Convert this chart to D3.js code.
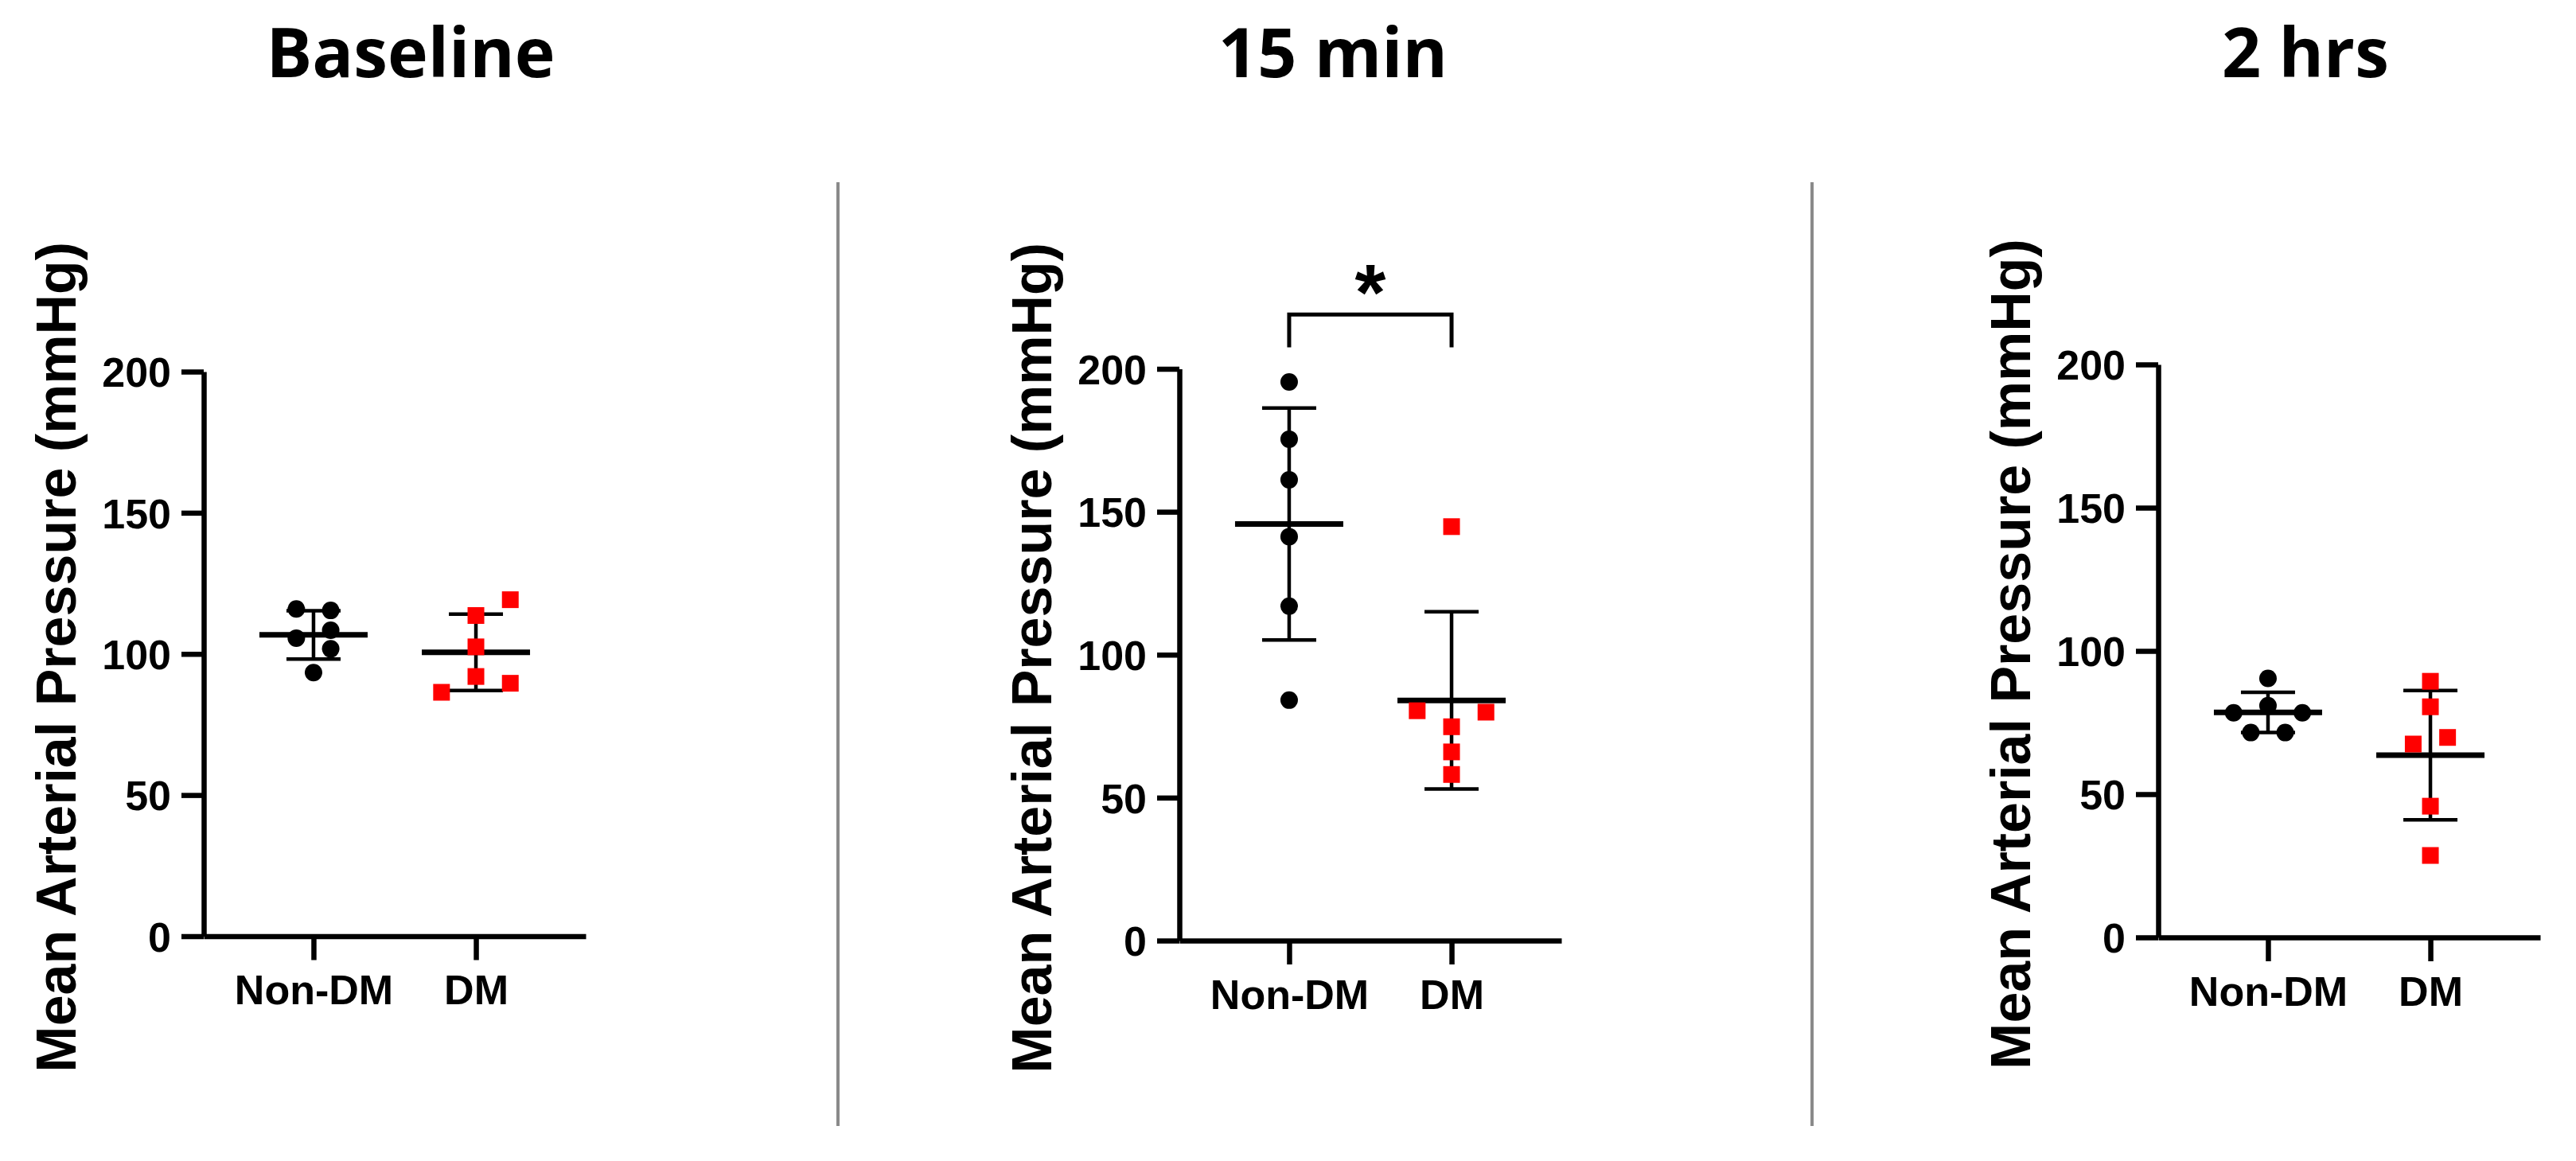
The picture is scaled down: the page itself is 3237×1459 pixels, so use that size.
<!DOCTYPE html>
<html><head><meta charset="utf-8">
<script src="https://cdn.jsdelivr.net/npm/d3@7"></script>
<style>html,body{margin:0;padding:0;background:#fff}svg{display:block}</style>
</head><body><svg id="chart" width="3237" height="1459"></svg>
<script>
// ---------------- data ----------------
const panelTitles = ["Baseline", "15 min", "2 hrs"];
const categories = ["Non-DM", "DM"];
const yTicks = [0, 50, 100, 150, 200];
const yAxisTitle = "Mean Arterial Pressure (mmHg)";

const baselineNonDM = [115.9, 115.4, 108.4, 105.6, 101.8, 93.4];
const baselineDM    = [119.2, 113.6, 102.5, 92.0, 89.6, 86.4];
const min15NonDM    = [195.4, 175.4, 161.2, 141.3, 117.0, 84.1];
const min15DM       = [144.8, 80.4, 79.9, 74.8, 66.0, 58.1];
const hrs2NonDM     = [90.4, 80.9, 78.4, 78.4, 71.5, 71.5];
const hrs2DM        = [89.4, 80.5, 69.8, 67.5, 45.8, 28.6];

// column-scatter lane of each point (same order as the values)
const baselineNonDMLanes = [-1, 1, 1, -1, 1, 0];
const baselineDMLanes    = [2, 0, 0, 0, 2, -2];
const min15NonDMLanes    = [0, 0, 0, 0, 0, 0];
const min15DMLanes       = [0, -2, 2, 0, 0, 0];
const hrs2NonDMLanes     = [0, 0, -2, 2, -1, 1];
const hrs2DMLanes        = [0, 0, 1, -1, 0, 0];

const significanceLabels = [null, "*", null];
const bracketLevels = [219, 207.5];   // in mmHg units

// ---------------- layout / style ----------------
const layout = [
  {axisX: 256,  y0: 1176.5, yTop: 467,   titleX: 516},
  {axisX: 1482, y0: 1182,   yTop: 463.5, titleX: 1675},
  {axisX: 2712, y0: 1178,   yTop: 458,   titleX: 2897}
];
const dividersX = [1053, 2277];
const xAxisLen = 480, laneUnit = 21.6;
const axisW = 6.5, meanW = 7, sdW = 4.5;
const meanHalf = 68, capHalf = 34;
const circleR = 11, squareSide = 21;
const groupColor = ["#000000", "#ff0000"];
const fontAxis = "'Liberation Sans', Arial, sans-serif";

const panelData = [
  [{v: baselineNonDM, lanes: baselineNonDMLanes}, {v: baselineDM, lanes: baselineDMLanes}],
  [{v: min15NonDM, lanes: min15NonDMLanes}, {v: min15DM, lanes: min15DMLanes}],
  [{v: hrs2NonDM, lanes: hrs2NonDMLanes}, {v: hrs2DM, lanes: hrs2DMLanes}]
];

const svg = d3.select("#chart");
svg.append("rect").attr("width", 3237).attr("height", 1459).attr("fill", "#fff");

// dividers
svg.selectAll("line.divider").data(dividersX).join("line")
  .attr("class", "divider")
  .attr("x1", d => d).attr("x2", d => d)
  .attr("y1", 229).attr("y2", 1415)
  .attr("stroke", "#8a8a8a").attr("stroke-width", 4);

panelTitles.forEach((title, i) => {
  const L = layout[i];
  const g = svg.append("g");

  // title
  g.append("text").text(title)
    .attr("x", L.titleX).attr("y", 97)
    .attr("text-anchor", "middle")
    .attr("font-family", "'Open Sans', sans-serif")
    .attr("font-weight", 700).attr("font-size", 86)
    .attr("fill", "#000");

  const y = d3.scaleLinear().domain([0, 200]).range([L.y0, L.yTop]);
  const x = d3.scalePoint().domain(categories)
    .range([L.axisX, L.axisX + xAxisLen]).padding(0.676);

  // y axis
  const yAx = g.append("g").attr("transform", `translate(${L.axisX},0)`)
    .call(d3.axisLeft(y).tickValues(yTicks).tickSize(28).tickSizeOuter(0).tickPadding(13));
  // x axis
  const xAx = g.append("g").attr("transform", `translate(0,${L.y0})`)
    .call(d3.axisBottom(x).tickSize(30).tickSizeOuter(0).tickPadding(19));

  [yAx, xAx].forEach(ax => {
    ax.select(".domain").attr("stroke", "#000").attr("stroke-width", axisW);
    ax.selectAll(".tick line").attr("stroke", "#000").attr("stroke-width", axisW);
    ax.selectAll(".tick text")
      .attr("font-family", fontAxis).attr("font-weight", 700)
      .attr("font-size", 52).attr("fill", "#000");
  });
  yAx.selectAll(".tick text").attr("dy", "0.36em");

  // y axis title
  g.append("text").text(yAxisTitle)
    .attr("transform", `translate(${L.axisX - 161},${(L.y0 + L.yTop) / 2 + 4}) rotate(-90)`)
    .attr("text-anchor", "middle")
    .attr("font-family", fontAxis).attr("font-weight", 700)
    .attr("font-size", 70).attr("fill", "#000");

  // groups
  panelData[i].forEach((grp, gi) => {
    const cx = x(categories[gi]);
    const m = d3.mean(grp.v), sd = d3.deviation(grp.v);
    const eg = g.append("g");
    // SD vertical
    eg.append("line").attr("x1", cx).attr("x2", cx)
      .attr("y1", y(m + sd)).attr("y2", y(m - sd))
      .attr("stroke", "#000").attr("stroke-width", sdW);
    // caps
    eg.selectAll("line.cap").data([m + sd, m - sd]).join("line")
      .attr("class", "cap")
      .attr("x1", cx - capHalf).attr("x2", cx + capHalf)
      .attr("y1", d => y(d)).attr("y2", d => y(d))
      .attr("stroke", "#000").attr("stroke-width", sdW);
    // mean
    eg.append("line").attr("x1", cx - meanHalf).attr("x2", cx + meanHalf)
      .attr("y1", y(m)).attr("y2", y(m))
      .attr("stroke", "#000").attr("stroke-width", meanW);

    const pts = grp.v.map((v, k) => ({v, lane: grp.lanes[k]}));
    if (gi === 0) {
      g.selectAll(null).data(pts).join("circle")
        .attr("cx", d => cx + d.lane * laneUnit)
        .attr("cy", d => y(d.v))
        .attr("r", circleR)
        .attr("fill", groupColor[gi]);
    } else {
      g.selectAll(null).data(pts).join("rect")
        .attr("x", d => cx + d.lane * laneUnit - squareSide / 2)
        .attr("y", d => y(d.v) - squareSide / 2)
        .attr("width", squareSide).attr("height", squareSide)
        .attr("fill", groupColor[gi]);
    }
  });

  // significance bracket
  if (significanceLabels[i]) {
    const xa = x(categories[0]), xb = x(categories[1]);
    const yl = y(bracketLevels[0]), yb = y(bracketLevels[1]);
    g.append("path")
      .attr("d", `M${xa},${yb}V${yl}H${xb}V${yb}`)
      .attr("fill", "none").attr("stroke", "#000").attr("stroke-width", 5);
    g.append("text").text(significanceLabels[i])
      .attr("x", (xa + xb) / 2).attr("y", yl + 7)
      .attr("text-anchor", "middle")
      .attr("font-family", fontAxis).attr("font-weight", 700)
      .attr("font-size", 100).attr("fill", "#000");
  }
});
</script>
</body></html>
